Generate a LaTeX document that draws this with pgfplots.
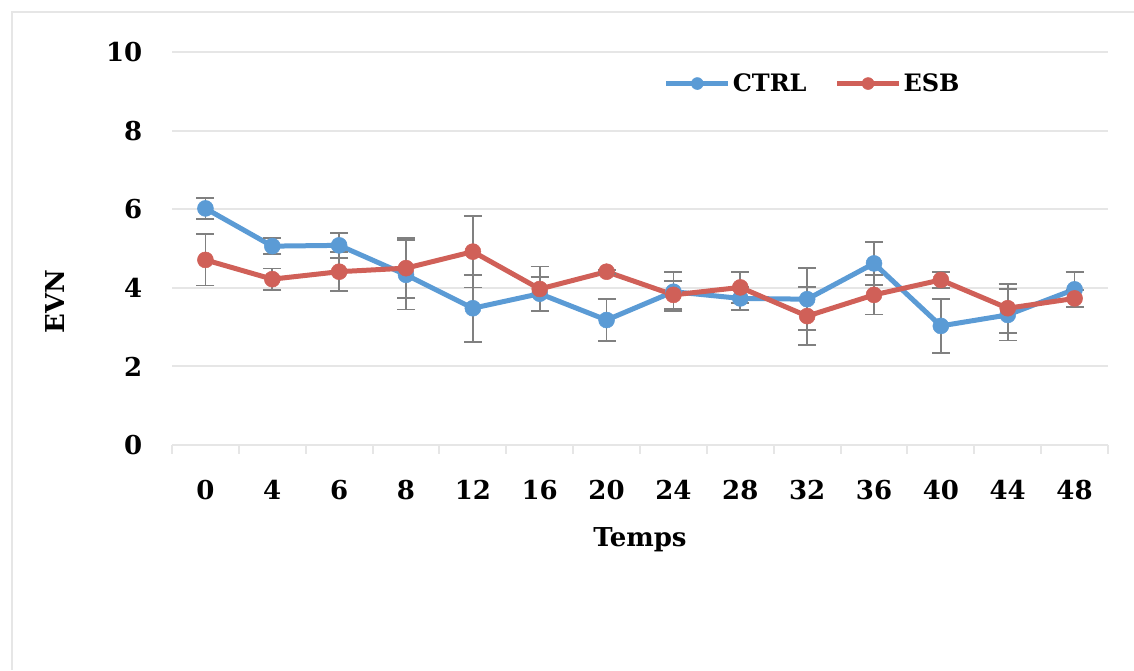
\documentclass[border=0pt]{standalone}
\usepackage{pgfplots}
\pgfplotsset{compat=1.18}
\usepackage{fontspec}
\setmainfont{DejaVu Serif}
\definecolor{ctrlblue}{RGB}{91,155,213}
\definecolor{esbred}{RGB}{208,96,88}
\definecolor{gridgray}{RGB}{230,230,230}
\definecolor{errgray}{RGB}{128,128,128}
\begin{document}
\begin{tikzpicture}
\path[use as bounding box] (0,0) rectangle (1134pt,670pt);
\draw[gridgray, line width=2pt] (12pt,0) -- (12pt,658pt) -- (1134pt,658pt);
\begin{axis}[
  at={(172pt,225pt)}, anchor=south west,
  scale only axis, width=936pt, height=393pt,
  font=\fontsize{26}{30}\selectfont\bfseries,
  /pgf/number format/assume math mode=true,
  xmin=-0.5, xmax=13.5, ymin=0, ymax=10,
  xtick={0,...,13},
  xticklabels={0,4,6,8,12,16,20,24,28,32,36,40,44,48},
  minor xtick={-0.5,0.5,...,13.5},
  ytick={0,2,...,10},
  yticklabels={0,2,4,6,8,10},
  major x tick style={draw=none},
  minor x tick style={gridgray, line width=2pt},
  minor tick length=9pt,
  tick align=outside,
  ymajorgrids, grid style={gridgray, line width=2pt},
  major y tick style={draw=none},
  axis x line*=bottom,
  axis y line*=left,
  x axis line style={draw=gridgray, line width=2pt, -},
  y axis line style={draw=none},
  yticklabel style={xshift=-22pt},
  xticklabel style={yshift=-27pt},
  ylabel={EVN}, xlabel={Temps},
  ylabel style={at={(axis description cs:-0.125,0.366)}, anchor=center},
  xlabel style={yshift=-21pt},
  legend style={draw=none, fill=none, at={(rel axis cs:0.522,0.955)}, anchor=north west,
    legend columns=2, nodes={inner xsep=2pt},
    /tikz/every even column/.append style={column sep=26pt},
    font=\fontsize{24}{28}\selectfont\bfseries},
  legend image code/.code={\draw[#1, mark repeat=2, mark phase=2, mark size=6pt] plot coordinates {(0pt,0pt) (31pt,0pt) (62pt,0pt)};},
]
\addplot[ctrlblue, line width=5pt, mark=*, mark size=8pt, mark options={solid, line width=0.5pt},
  error bars/.cd, y dir=both, y explicit,
  error bar style={errgray, line width=1.8pt},
  error mark options={errgray, line width=1.8pt, mark size=9pt, rotate=90}]
coordinates {
(0,6.02) +- (0,0.27)
(1,5.06) +- (0,0.21)
(2,5.08) +- (0,0.32)
(3,4.33) +- (0,0.88)
(4,3.48) +- (0,0.85)
(5,3.85) +- (0,0.43)
(6,3.18) +- (0,0.54)
(7,3.90) +- (0,0.50)
(8,3.73) +- (0,0.30)
(9,3.71) +- (0,0.79)
(10,4.62) +- (0,0.55)
(11,3.03) +- (0,0.69)
(12,3.31) +- (0,0.65)
(13,3.96) +- (0,0.45)
};
\addlegendentry{CTRL}
\addplot[esbred, line width=5pt, mark=*, mark size=8pt, mark options={solid, line width=0.5pt},
  error bars/.cd, y dir=both, y explicit,
  error bar style={errgray, line width=1.8pt},
  error mark options={errgray, line width=1.8pt, mark size=9pt, rotate=90}]
coordinates {
(0,4.71) +- (0,0.65)
(1,4.22) +- (0,0.27)
(2,4.41) +- (0,0.50)
(3,4.50) +- (0,0.76)
(4,4.92) +- (0,0.91)
(5,3.97) +- (0,0.57)
(6,4.41) +- (0,0.05)
(7,3.82) +- (0,0.35)
(8,4.01) +- (0,0.40)
(9,3.28) +- (0,0.74)
(10,3.82) +- (0,0.50)
(11,4.20) +- (0,0.21)
(12,3.48) +- (0,0.62)
(13,3.73) +- (0,0.22)
};
\addlegendentry{ESB}
\end{axis}
\end{tikzpicture}
\end{document}
